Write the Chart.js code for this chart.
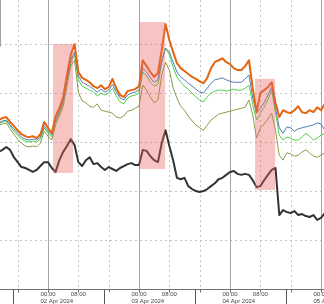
<!DOCTYPE html>
<html lang="en">
<head>
    <meta charset="UTF-8">
    <title>Intraday spreads, 02-05 Apr 2024</title>
    <style>
        body {
            margin: 0;
            padding: 0;
            background: #fff;
            overflow: hidden;
        }
        canvas {
            display: block;
        }
    </style>
    <script src="https://cdn.jsdelivr.net/npm/chart.js"></script>
</head>
<body>
    <canvas id="spreadChart" width="324" height="304"></canvas>
    <script>
        // hours from 02 Apr 2024 00:00, hourly samples
        const hours = [
            -13, -12, -11, -10, -9, -8, -7, -6, -5, -4, -3, -2, -1,
            0, 1, 2, 3, 4, 5, 6, 7, 8, 9, 10, 11, 12, 13, 14, 15, 16, 17, 18, 19, 20, 21, 22, 23,
            24, 25, 26, 27, 28, 29, 30, 31, 32, 33, 34, 35, 36, 37, 38, 39, 40, 41, 42, 43, 44, 45, 46, 47,
            48, 49, 50, 51, 52, 53, 54, 55, 56, 57, 58, 59, 60, 61, 62, 63, 64, 65, 66, 67, 68, 69, 70, 71, 72, 73
        ];

        const orangeSeries = [
            34.5, 34.9, 35.1, 34.1, 33.3, 32.4, 31.6, 31.2, 31.0, 31.2, 30.8, 31.6, 34.1,
            32.9, 31.8, 35.3, 36.9, 39.2, 43.7, 47.8, 50.0, 44.3, 43.1, 42.7, 42.2, 41.4, 41.0, 41.6, 40.8, 41.2, 42.9, 41.0, 39.6, 39.2, 40.4, 40.6, 40.8,
            41.4, 46.7, 45.5, 44.3, 43.3, 44.1, 48.8, 54.1, 50.8, 48.4, 46.1, 45.1, 44.5, 43.9, 43.3, 42.9, 42.4, 42.0, 43.1, 45.1, 46.3, 46.7, 47.1, 46.3,
            45.9, 45.1, 44.7, 44.7, 45.5, 46.7, 41.0, 36.1, 40.0, 40.6, 41.2, 42.2, 38.0, 35.1, 36.5, 36.1, 35.9, 36.5, 37.3, 36.1, 35.9, 36.5, 36.1, 37.1, 36.5, 37.8
        ];
        const blueSeries = [
            33.9, 34.3, 34.5, 33.5, 32.7, 31.8, 31.0, 30.6, 30.4, 30.6, 30.4, 31.0, 33.3,
            32.2, 31.4, 34.5, 36.3, 38.4, 42.7, 46.7, 48.4, 43.5, 42.2, 41.8, 41.4, 40.8, 40.2, 40.8, 40.2, 40.6, 41.8, 40.2, 39.0, 38.6, 39.6, 40.0, 40.2,
            40.6, 45.1, 44.3, 43.1, 42.2, 42.7, 46.7, 49.2, 48.4, 46.3, 44.3, 43.3, 42.7, 42.0, 41.4, 40.8, 40.2, 40.0, 41.0, 42.0, 42.7, 42.9, 43.1, 42.7,
            42.4, 42.2, 42.2, 42.2, 42.9, 43.7, 39.0, 35.9, 36.9, 38.0, 39.6, 41.2, 36.9, 32.9, 31.8, 33.1, 32.9, 32.2, 32.7, 32.9, 33.1, 33.3, 33.5, 33.9, 33.7, 32.4
        ];
        const greenSeries = [
            33.7, 34.1, 34.3, 33.3, 32.2, 31.4, 30.6, 30.2, 30.0, 30.2, 30.0, 30.6, 32.9,
            31.8, 31.0, 34.1, 35.9, 38.0, 42.2, 46.1, 47.8, 42.7, 41.4, 41.0, 40.6, 40.2, 39.4, 40.0, 39.6, 40.0, 41.0, 39.4, 38.2, 37.8, 39.0, 39.4, 39.6,
            40.0, 44.3, 43.5, 42.2, 41.4, 41.8, 46.3, 49.2, 47.8, 45.3, 43.3, 42.2, 41.4, 40.8, 40.0, 39.2, 38.6, 38.2, 39.2, 40.0, 40.4, 40.6, 40.6, 40.4,
            40.6, 40.8, 40.6, 40.6, 41.0, 41.6, 37.6, 34.5, 35.9, 37.1, 38.6, 40.6, 35.9, 31.4, 30.4, 31.0, 30.8, 30.4, 30.4, 31.0, 31.8, 31.2, 30.4, 30.8, 31.4, 31.8
        ];
        const oliveSeries = [
            33.5, 33.7, 33.9, 32.7, 31.6, 30.6, 29.8, 29.2, 29.0, 29.2, 29.0, 29.8, 32.2,
            31.2, 30.4, 33.5, 35.3, 37.3, 41.4, 45.5, 46.7, 40.2, 38.4, 38.0, 37.3, 37.1, 37.8, 36.5, 36.3, 36.1, 35.9, 35.1, 34.9, 35.3, 36.3, 36.5, 36.9,
            37.3, 41.6, 40.6, 39.2, 38.0, 38.6, 43.7, 46.3, 44.7, 41.0, 39.0, 37.3, 36.5, 35.3, 34.3, 33.5, 32.9, 32.4, 33.5, 34.5, 35.1, 35.7, 35.9, 36.1,
            36.3, 36.5, 36.7, 36.9, 37.1, 38.6, 35.5, 30.8, 32.9, 33.7, 34.7, 35.9, 32.4, 27.3, 26.3, 27.8, 27.6, 27.1, 27.3, 28.0, 28.4, 27.8, 27.1, 26.9, 27.3, 27.8
        ];
        const blackSeries = [
            28.0, 28.4, 29.0, 28.4, 26.9, 25.9, 24.9, 24.7, 24.3, 23.9, 24.3, 25.1, 25.9,
            25.9, 24.7, 23.9, 26.3, 28.0, 29.2, 30.6, 29.4, 25.9, 25.1, 26.3, 26.9, 25.5, 25.7, 24.9, 24.3, 24.9, 24.5, 24.1, 24.7, 25.1, 25.5, 25.7, 25.3,
            25.3, 28.4, 28.2, 27.1, 26.3, 25.9, 29.8, 32.4, 29.2, 26.3, 22.7, 22.4, 22.7, 21.0, 20.4, 20.0, 19.8, 20.0, 20.4, 21.0, 21.6, 22.4, 22.7, 23.3,
            23.9, 24.1, 23.5, 23.3, 23.5, 23.3, 22.2, 20.8, 21.0, 22.2, 23.3, 24.3, 24.7, 15.1, 16.1, 15.7, 15.5, 15.9, 15.1, 15.3, 14.9, 14.7, 15.1, 14.1, 14.5, 15.5
        ];

        // highlighted windows (hours) and their value range
        const shadeStart = [1.3, 24.0, 54.6];
        const shadeEnd = [6.6, 30.9, 59.9];
        const shadeTop = [50.0, 54.5, 42.9];
        const shadeBottom = [23.7, 24.5, 20.2];

        // axis ticks
        const gridValues = [10, 20, 30, 40, 50];
        const tickHours = [-8, 0, 8, 16, 24, 32, 40, 48, 56, 64, 72];
        const tickLabels = ['', '00:00', '08:00', '', '00:00', '08:00', '', '00:00', '08:00', '', '00:00'];
        const dayHours = [0, 24, 48, 72];
        const dayLabels = ['02 Apr 2024', '03 Apr 2024', '04 Apr 2024', '05 Apr 2024'];
        const sessionBreaks = [-9.25, 14.75, 38.75, 62.75];

        function toPoints(values) {
            return values.map((v, i) => ({ x: hours[i], y: v }));
        }

        function vline(ctx, x, y1, y2) {
            ctx.beginPath();
            ctx.moveTo(x, y1);
            ctx.lineTo(x, y2);
            ctx.stroke();
        }

        const framePlugin = {
            id: 'frame',
            beforeDatasetsDraw(chart) {
                const { ctx, chartArea: a, scales: { x, y } } = chart;
                ctx.save();
                ctx.lineWidth = 1;
                ctx.strokeStyle = '#c4c4c4';
                ctx.setLineDash([2, 3]);
                gridValues.forEach(v => {
                    const py = Math.round(y.getPixelForValue(v)) + 0.5;
                    ctx.beginPath();
                    ctx.moveTo(a.left, py);
                    ctx.lineTo(a.right, py);
                    ctx.stroke();
                });
                tickHours.forEach(h => {
                    const px = Math.round(x.getPixelForValue(h)) + 0.5;
                    if (h % 24 === 0) {
                        ctx.setLineDash([]);
                        ctx.strokeStyle = '#a6a6a6';
                    } else {
                        ctx.setLineDash([2, 3]);
                        ctx.strokeStyle = '#c4c4c4';
                    }
                    vline(ctx, px, a.top, a.bottom);
                });
                // legend box edge at the top left
                ctx.setLineDash([]);
                ctx.strokeStyle = '#a0a0a0';
                vline(ctx, 0.5, a.top, y.getPixelForValue(49.5));
                ctx.restore();
            },
            afterDatasetsDraw(chart) {
                const { ctx, scales: { x, y } } = chart;
                ctx.save();
                ctx.fillStyle = 'rgba(235, 100, 100, 0.38)';
                shadeStart.forEach((s, i) => {
                    const x1 = x.getPixelForValue(s);
                    const x2 = x.getPixelForValue(shadeEnd[i]);
                    const y1 = y.getPixelForValue(shadeTop[i]);
                    const y2 = y.getPixelForValue(shadeBottom[i]);
                    ctx.fillRect(x1, y1, x2 - x1, y2 - y1);
                });
                ctx.restore();
            },
            afterDraw(chart) {
                const { ctx, chartArea: a, scales: { x } } = chart;
                const base = Math.round(a.bottom) + 0.5;
                ctx.save();
                ctx.lineWidth = 1;
                ctx.strokeStyle = '#707070';
                ctx.beginPath();
                ctx.moveTo(0, base);
                ctx.lineTo(chart.width, base);
                ctx.stroke();
                tickHours.forEach(h => {
                    vline(ctx, Math.round(x.getPixelForValue(h)) + 0.5, base, base + 3);
                });
                ctx.strokeStyle = '#555';
                sessionBreaks.forEach(h => {
                    vline(ctx, Math.round(x.getPixelForValue(h)) + 0.5, base, chart.height);
                });

                ctx.font = '6px "Liberation Sans", Arial, sans-serif';
                ctx.fillStyle = '#444';
                ctx.textBaseline = 'alphabetic';
                ctx.textAlign = 'center';
                tickHours.forEach((h, i) => {
                    if (tickLabels[i]) ctx.fillText(tickLabels[i], x.getPixelForValue(h), base + 6.5);
                });
                ctx.textAlign = 'left';
                const half = ctx.measureText('00:00').width / 2;
                dayHours.forEach((h, i) => {
                    ctx.fillText(dayLabels[i], x.getPixelForValue(h) - half, base + 13);
                });
                ctx.restore();
            }
        };

        const ctx = document.getElementById('spreadChart').getContext('2d');
        const spreadChart = new Chart(ctx, {
            type: 'line',
            data: {
                datasets: [
                    { label: 'Orange', data: toPoints(orangeSeries), borderColor: '#e4640f', borderWidth: 2, order: 0 },
                    { label: 'Black', data: toPoints(blackSeries), borderColor: '#333333', borderWidth: 2, order: 1 },
                    { label: 'Blue', data: toPoints(blueSeries), borderColor: '#4f7fb8', borderWidth: 1, order: 2 },
                    { label: 'Green', data: toPoints(greenSeries), borderColor: '#4fd04a', borderWidth: 1, order: 3 },
                    { label: 'Olive', data: toPoints(oliveSeries), borderColor: '#8c9a45', borderWidth: 1, order: 4 }
                ]
            },
            options: {
                responsive: false,
                animation: false,
                devicePixelRatio: 1,
                layout: { padding: { left: 0, right: 0, top: 0, bottom: 15 } },
                elements: {
                    point: { radius: 0 },
                    line: { tension: 0, borderJoinStyle: 'round' }
                },
                plugins: {
                    legend: { display: false },
                    tooltip: { enabled: false }
                },
                scales: {
                    x: { type: 'linear', display: false, min: -12.66, max: 72.79 },
                    y: { display: false, min: 0, max: 59 }
                }
            },
            plugins: [framePlugin]
        });
    </script>
</body>
</html>
